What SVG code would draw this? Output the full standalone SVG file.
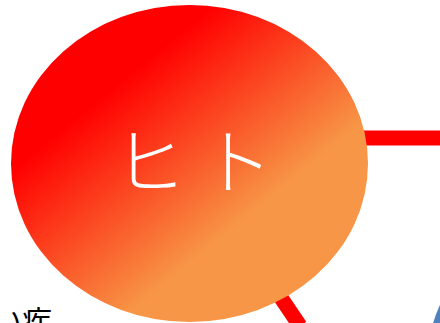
<svg xmlns="http://www.w3.org/2000/svg" width="440" height="323" viewBox="0 0 440 323">
<defs>
<linearGradient id="gRed" gradientUnits="userSpaceOnUse" x1="89" y1="108" x2="206" y2="251">
<stop offset="0" stop-color="#FF0000"/>
<stop offset="1" stop-color="#F79646"/>
</linearGradient>
<style>
.conn{stroke:#FF0000;stroke-width:15;fill:none}
.label{font-family:"Noto Sans CJK JP","Noto Sans CJK SC",sans-serif}
</style>
</defs>
<rect width="440" height="323" fill="#FFFFFF"/>
<g id="connectors">
<line class="conn" x1="190" y1="138" x2="440" y2="138"/>
<line class="conn" x1="190" y1="163" x2="300" y2="326"/>
</g>
<g id="node-blue">
<ellipse cx="605" cy="364" rx="178" ry="158" fill="#4F81BD"/>
</g>
<g id="node-hito">
<ellipse cx="189.5" cy="163.5" rx="178.5" ry="158.5" fill="url(#gRed)"/>
<text class="label" x="114 201" y="188" font-size="72" font-weight="300" fill="#FFFFFF">ヒト</text>
</g>
<g id="node-text">
<text class="label" x="-8" y="332" font-size="30" fill="#000000">い疾</text>
</g>
</svg>
